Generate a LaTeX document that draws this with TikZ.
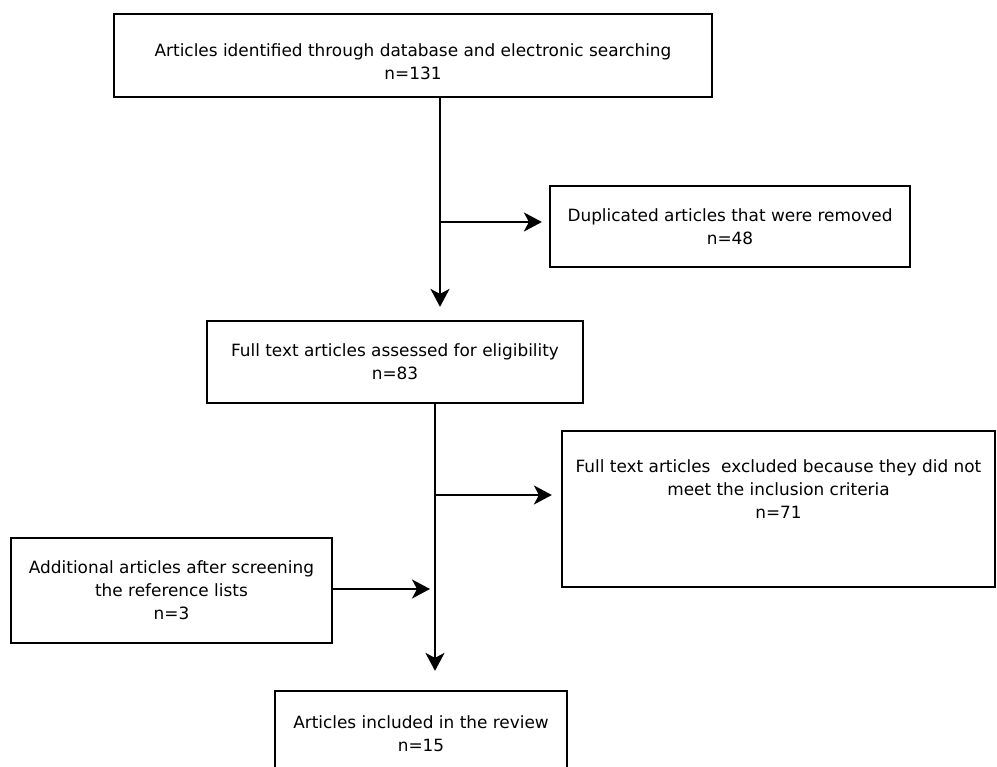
\documentclass[tikz,border=0pt]{standalone}
\usepackage{fontspec}
\setmainfont{DejaVu Sans}
\usetikzlibrary{arrows.meta}
\begin{document}
\begin{tikzpicture}[x=1pt,y=-1pt,
  box/.style={draw,line width=2.2pt,align=center,inner sep=0pt,font=\fontsize{16.9}{23}\selectfont},
  arr/.style={line width=2pt,-{Stealth[length=18pt,width=19pt,inset=5pt]}}]
  \path[use as bounding box] (0,0) rectangle (997,767);
  \clip (0,0) rectangle (997,767);
  \node[box,minimum width=598pt,minimum height=83pt] (ident) at (413,55.5)
    {\rule{0pt}{25pt}Articles identified through database and electronic searching\\n=131};
  \node[box,minimum width=360pt,minimum height=81pt] (dup) at (730,226.5)
    {Duplicated articles that were removed\\n=48};
  \node[box,minimum width=376pt,minimum height=82pt] (full) at (395,362)
    {Full text articles assessed for eligibility\\n=83};
  \node[box,minimum width=433pt,minimum height=156pt] (excl) at (778.5,509) {};
  \node[align=center,inner sep=0pt,font=\fontsize{16.9}{23}\selectfont] (excltext) at (778.5,489)
    {Full text articles~ excluded because they did not\\meet the inclusion criteria\\n=71};
  \node[box,minimum width=321pt,minimum height=105pt] (add) at (171.5,590.5)
    {Additional articles after screening\\the reference lists\\n=3};
  \node[box,minimum width=292pt,minimum height=85pt] (incl) at (421,733.5)
    {Articles included in the review\\n=15};
  \coordinate (j1) at (440,222);
  \coordinate (j2) at (435,495);
  \coordinate (j3) at (435,589);
  \draw[arr,shorten >=13pt] (ident.south -| j1) -- (full.north -| j1);
  \draw[arr,shorten >=7pt] (j1) -- (j1 -| dup.west);
  \draw[arr,shorten >=19pt] (full.south -| j2) -- (incl.north -| j2);
  \draw[arr,shorten >=9pt] (j2) -- (j2 -| excl.west);
  \draw[arr,shorten >=5pt] (add.east |- j3) -- (j3);
\end{tikzpicture}
\end{document}
